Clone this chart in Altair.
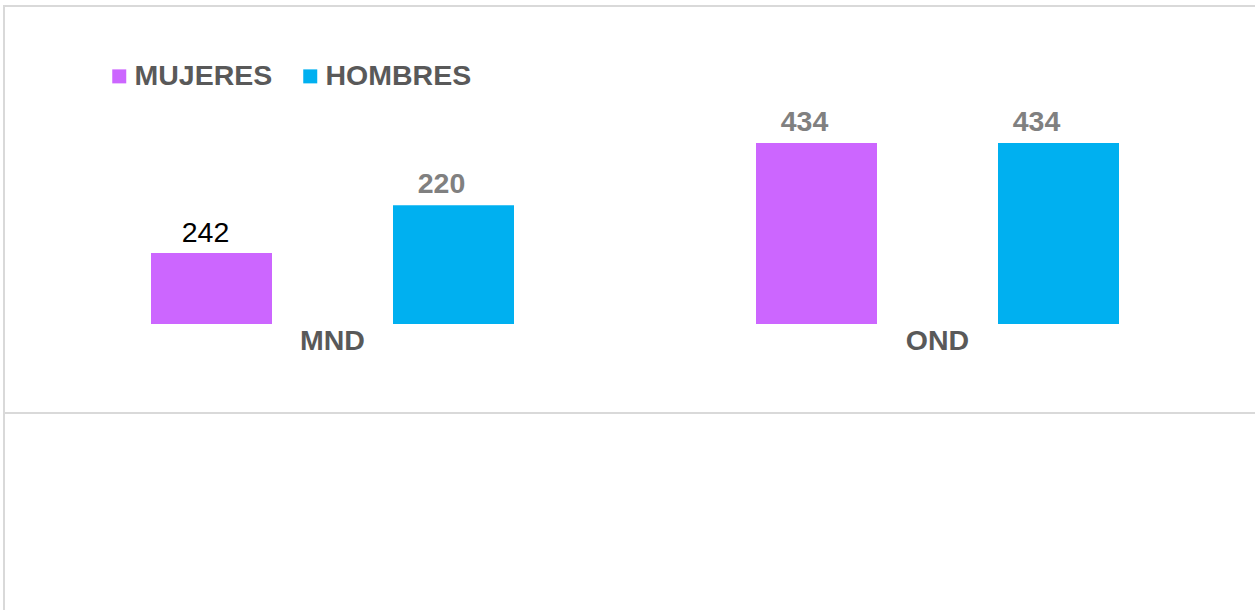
import altair as alt
import pandas as pd

categories = ["MND", "MND", "OND", "OND"]
series = ["MUJERES", "HOMBRES", "MUJERES", "HOMBRES"]
bar_values = [170, 285, 434, 434]      # bar heights as drawn
label_values = [242, 220, 434, 434]    # printed data labels

df = pd.DataFrame({
    "category": categories,
    "series": series,
    "value": bar_values,
    "label": label_values,
})

FONT = "Liberation Sans"
FS = 28.5
series_order = ["MUJERES", "HOMBRES"]
colors = ["#CC66FF", "#00B0F0"]

base = alt.Chart(df).encode(
    x=alt.X("category:N", sort=["MND", "OND"],
            scale=alt.Scale(paddingInner=0, paddingOuter=0),
            axis=alt.Axis(title=None, labelAngle=0, domain=False, ticks=False,
                          labelPadding=2, labelFontSize=FS, labelFontWeight="bold",
                          labelColor="#595959", labelFont=FONT, grid=False)),
    xOffset=alt.XOffset("series:N", sort=series_order,
                        scale=alt.Scale(paddingInner=0.5, paddingOuter=0.5)),
    y=alt.Y("value:Q", scale=alt.Scale(domain=[0, 434], nice=False, zero=True),
            axis=None),
)

bars = base.mark_bar(size=121).encode(
    color=alt.Color("series:N", sort=series_order,
                    scale=alt.Scale(domain=series_order, range=colors),
                    legend=alt.Legend(orient="none", legendX=75, legendY=-81,
                                      direction="horizontal", title=None,
                                      symbolType="square", symbolSize=196,
                                      symbolStrokeWidth=0, padding=0,
                                      labelFontSize=FS, labelFontWeight="bold",
                                      labelColor="#595959", labelFont=FONT,
                                      labelOffset=1, columnPadding=23,
                                      labelLimit=300))
)

is_first = (alt.datum.category == "MND") & (alt.datum.series == "MUJERES")
is_last = (alt.datum.category == "OND") & (alt.datum.series == "HOMBRES")

label_normal = base.transform_filter(is_first).mark_text(
    baseline="alphabetic", dy=-11, dx=-6, fontSize=FS, font=FONT,
    color="#000000").encode(text="label:N")

label_bold = base.transform_filter(~is_first & ~is_last).mark_text(
    baseline="alphabetic", dy=-12, dx=-12, fontSize=FS, font=FONT,
    fontWeight="bold", color="#808080").encode(text="label:N")

label_bold_last = base.transform_filter(is_last).mark_text(
    baseline="alphabetic", dy=-12, dx=-22, fontSize=FS, font=FONT,
    fontWeight="bold", color="#808080").encode(text="label:N")

frame_color = "#D9D9D9"
top_line = alt.Chart(df).mark_rule(color=frame_color, strokeWidth=2).encode(
    x=alt.value(-26), x2=alt.value(1225), y=alt.value(-137))
mid_line = alt.Chart(df).mark_rule(color=frame_color, strokeWidth=2).encode(
    x=alt.value(-26), x2=alt.value(1225), y=alt.value(270))
left_line = alt.Chart(df).mark_rule(color=frame_color, strokeWidth=2).encode(
    x=alt.value(-26), y=alt.value(-138), y2=alt.value(467))

chart = alt.layer(top_line, mid_line, left_line, bars,
                  label_normal, label_bold, label_bold_last).properties(
    width=1210, height=181,
    padding={"left": 30, "top": 143, "right": 15, "bottom": 286},
    autosize=alt.AutoSizeParams(type="none"),
    background="white",
).configure(font=FONT, view=alt.ViewConfig(stroke=None))

chart.save("out.html", embed_options={"renderer": "svg", "actions": False})
